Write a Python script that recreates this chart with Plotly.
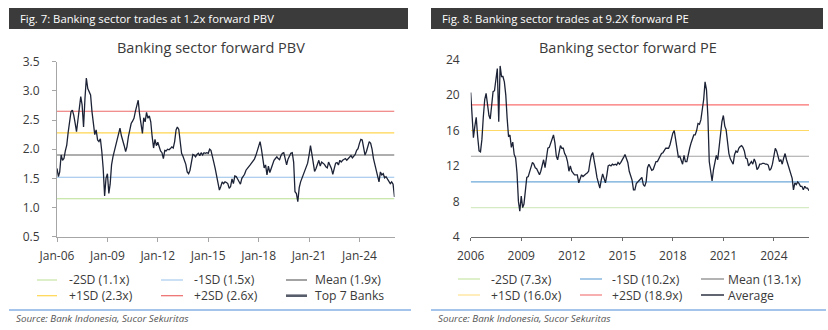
import pandas as pd
import plotly.graph_objects as go

W, H = 828, 330

# Monthly observations, Jan 2006 onward
months = pd.date_range("2006-01-01", periods=242, freq="MS")

# Banking sector forward PBV (Top 7 Banks)
pbv_top7 = [
    1.67, 1.53, 1.61, 1.90, 1.81, 1.84, 1.97, 2.07, 2.29, 2.50,
    2.64, 2.67, 2.58, 2.44, 2.30, 2.50, 2.70, 2.90, 2.76, 2.38,
    2.87, 3.22, 3.04, 2.98, 2.93, 2.64, 2.41, 2.25, 2.33, 2.16,
    2.13, 2.18, 1.96, 1.67, 1.20, 1.50, 1.58, 1.24, 1.40, 1.73,
    1.87, 1.98, 2.06, 2.16, 2.30, 2.36, 2.23, 2.16, 2.06, 1.96,
    2.04, 2.21, 2.34, 2.44, 2.48, 2.53, 2.65, 2.76, 2.84, 2.60,
    2.41, 2.27, 2.54, 2.47, 2.63, 2.53, 2.57, 2.47, 2.21, 2.02,
    2.17, 2.06, 2.12, 2.02, 1.97, 1.94, 1.84, 1.98, 1.97, 2.00,
    1.99, 2.01, 2.04, 2.02, 2.13, 2.33, 2.38, 2.34, 2.18, 1.93,
    1.88, 1.81, 1.74, 1.61, 1.58, 1.64, 1.77, 1.91, 1.90, 1.87,
    1.91, 1.93, 1.89, 1.94, 1.90, 1.94, 1.93, 1.94, 1.93, 2.00,
    1.98, 1.90, 1.78, 1.67, 1.53, 1.41, 1.30, 1.36, 1.44, 1.41,
    1.44, 1.43, 1.41, 1.33, 1.36, 1.49, 1.41, 1.54, 1.53, 1.49,
    1.43, 1.40, 1.50, 1.53, 1.57, 1.64, 1.68, 1.70, 1.73, 1.76,
    1.80, 1.83, 1.89, 1.97, 2.04, 2.13, 2.01, 1.83, 1.68, 1.73,
    1.56, 1.71, 1.60, 1.67, 1.74, 1.81, 1.84, 1.87, 1.84, 1.82,
    1.89, 1.93, 1.94, 1.83, 1.73, 1.83, 1.89, 1.93, 1.94, 1.78,
    1.27, 1.24, 1.10, 1.34, 1.44, 1.51, 1.56, 1.61, 1.68, 1.76,
    1.90, 2.06, 1.93, 1.74, 1.62, 1.67, 1.74, 1.81, 1.71, 1.78,
    1.76, 1.74, 1.70, 1.68, 1.78, 1.73, 1.67, 1.57, 1.67, 1.76,
    1.77, 1.73, 1.81, 1.78, 1.81, 1.82, 1.84, 1.81, 1.84, 1.86,
    1.89, 1.85, 1.89, 1.91, 1.98, 2.01, 2.10, 2.17, 2.16, 2.02,
    1.90, 1.96, 2.06, 2.13, 2.10, 2.00, 1.84, 1.74, 1.66, 1.56,
    1.44, 1.61, 1.56, 1.58, 1.51, 1.53, 1.49, 1.45, 1.41, 1.44,
    1.40, 1.18,
]

# Banking sector forward PE (average)
pe_avg = [
    20.3, 17.2, 15.2, 16.5, 17.5, 15.3, 13.7, 13.6, 15.0, 17.5,
    19.5, 20.2, 19.1, 17.7, 17.3, 19.3, 20.4, 20.5, 22.1, 23.0,
    17.0, 23.3, 22.1, 22.1, 21.5, 20.0, 17.4, 15.3, 15.5, 14.1,
    14.7, 13.3, 12.9, 11.2, 8.0, 6.9, 8.6, 7.3, 7.7, 9.7,
    10.7, 10.8, 11.3, 12.0, 12.4, 12.2, 11.8, 11.7, 11.4, 11.0,
    11.4, 12.2, 12.7, 11.8, 13.2, 14.0, 14.1, 14.6, 15.2, 15.5,
    14.6, 13.1, 12.7, 13.7, 14.3, 14.0, 14.0, 13.4, 13.1, 12.5,
    11.4, 12.0, 11.4, 11.2, 11.0, 11.0, 11.0, 10.1, 10.6, 11.0,
    10.8, 11.0, 11.1, 11.2, 11.4, 12.5, 13.2, 13.5, 12.8, 11.7,
    10.7, 10.2, 9.5, 10.4, 11.1, 10.6, 10.1, 11.0, 12.0, 12.1,
    12.0, 12.2, 12.1, 12.2, 12.1, 12.4, 12.2, 12.4, 12.8, 13.0,
    13.3, 12.9, 12.4, 11.4, 10.8, 10.4, 9.3, 9.3, 10.0, 10.2,
    10.4, 10.5, 10.7, 9.9, 9.7, 10.2, 11.8, 12.2, 11.9, 11.5,
    11.6, 12.2, 12.5, 12.5, 12.8, 13.1, 13.4, 13.5, 13.7, 14.0,
    14.0, 14.0, 14.4, 15.2, 15.7, 16.0, 15.1, 14.0, 13.0, 13.1,
    12.7, 12.2, 13.2, 12.5, 12.5, 13.5, 14.0, 14.6, 15.1, 15.5,
    15.5, 16.0, 16.8, 16.7, 17.2, 18.3, 19.5, 21.5, 20.6, 17.5,
    12.5, 11.4, 10.3, 11.6, 12.6, 13.2, 12.7, 14.2, 16.0, 17.0,
    17.7, 16.5, 16.1, 14.6, 13.4, 12.8, 12.5, 12.2, 13.3, 13.7,
    13.5, 14.0, 14.2, 14.3, 14.1, 13.7, 12.9, 12.8, 12.0, 12.2,
    12.5, 12.2, 12.8, 12.4, 11.6, 11.8, 12.2, 12.2, 12.3, 12.3,
    12.2, 12.2, 12.1, 11.5, 11.7, 12.2, 13.3, 14.0, 13.7, 12.9,
    12.5, 12.7, 12.2, 12.9, 13.4, 12.7, 12.1, 11.6, 11.0, 10.6,
    9.3, 10.1, 9.9, 10.2, 10.0, 9.7, 9.7, 9.3, 9.7, 9.5,
    9.5, 9.2,
]

# Standard-deviation bands
band_names = ["-2SD", "-1SD", "Mean", "+1SD", "+2SD"]
pbv_band_values = [1.15, 1.52, 1.90, 2.28, 2.65]
pe_band_values = [7.3, 10.2, 13.1, 16.0, 18.9]

# Axis ticks
year_ticks = ["2006-01-01", "2009-01-01", "2012-01-01", "2015-01-01",
              "2018-01-01", "2021-01-01", "2024-01-01"]
pbv_x_labels = ["Jan-06", "Jan-09", "Jan-12", "Jan-15", "Jan-18", "Jan-21", "Jan-24"]
pe_x_labels = ["2006", "2009", "2012", "2015", "2018", "2021", "2024"]
pbv_y_ticks = [0.5, 1.0, 1.5, 2.0, 2.5, 3.0, 3.5]
pe_y_ticks = [4, 8, 12, 16, 20, 24]

FONT = "Open Sans"
TXT = "#3a3a3a"
NAVY = "#1d2336"

pbv_colors = {"-2SD": "#b9df93", "-1SD": "#93bfe9", "Mean": "#5f5f5f",
              "+1SD": "#ffd54f", "+2SD": "#ec6868"}
pe_colors = {"-2SD": "#d5ebc4", "-1SD": "#6ea7da", "Mean": "#a3a3a3",
             "+1SD": "#ffd966", "+2SD": "#fb6f6f"}
pbv_legend_colors = dict(pbv_colors, **{"-2SD": "#c6e5a6", "-1SD": "#a9cbee",
                                         "Mean": "#666666"})
pe_legend_colors = dict(pe_colors, **{"-2SD": "#c8e6a6", "Mean": "#808080",
                                       "+1SD": "#ffe28f", "+2SD": "#f47b7b"})

x_start, x_end = "2006-01-01", "2026-02-01"


def px(x):
    return x / W


def py(y):
    return 1 - y / H


fig = go.Figure()

# Left panel: band lines then series
for name, val in zip(band_names, pbv_band_values):
    fig.add_trace(go.Scatter(
        x=[months[0], months[-1]], y=[val, val], mode="lines",
        line=dict(color=pbv_colors[name], width=1.1),
        xaxis="x", yaxis="y", hoverinfo="skip", showlegend=False))
fig.add_trace(go.Scatter(
    x=months, y=pbv_top7, mode="lines", line=dict(color=NAVY, width=1.3),
    xaxis="x", yaxis="y", showlegend=False, name="Top 7 Banks"))

# Right panel
for name, val in zip(band_names, pe_band_values):
    fig.add_trace(go.Scatter(
        x=[months[0], months[-1]], y=[val, val], mode="lines",
        line=dict(color=pe_colors[name], width=1.1),
        xaxis="x2", yaxis="y2", hoverinfo="skip", showlegend=False))
fig.add_trace(go.Scatter(
    x=months, y=pe_avg, mode="lines", line=dict(color=NAVY, width=1.3),
    xaxis="x2", yaxis="y2", showlegend=False, name="Average"))

shapes = []
annotations = []

# Header bars
for x0, x1, label in [(9, 408, "Fig. 7: Banking sector trades at 1.2x forward PBV"),
                      (431, 823, "Fig. 8: Banking sector trades at 9.2X forward PE")]:
    shapes.append(dict(type="rect", xref="paper", yref="paper",
                       x0=px(x0), x1=px(x1), y0=py(29), y1=py(8),
                       fillcolor="#3b3b3b", line=dict(width=0), layer="below"))
    annotations.append(dict(text=label, xref="paper", yref="paper",
                            x=px(x0 + 9), y=py(18.5), xanchor="left", yanchor="middle",
                            showarrow=False, font=dict(family=FONT, size=11.3, color="#ffffff")))

# Chart titles
annotations.append(dict(text="Banking sector forward PBV", xref="paper", yref="paper",
                        x=px(210.5), y=py(47), xanchor="center", yanchor="middle",
                        showarrow=False, font=dict(family=FONT, size=14.5, color=TXT)))
annotations.append(dict(text="Banking sector forward PE", xref="paper", yref="paper",
                        x=px(628), y=py(47), xanchor="center", yanchor="middle",
                        showarrow=False, font=dict(family=FONT, size=14.5, color=TXT)))


def legend(entries, cols, rows_y):
    """Two-row, three-column key: line samples plus one two-line label per column."""
    for c in range(3):
        lx0, lx1, tx = cols[c]
        col_entries = [entries[c], entries[c + 3]]
        for (label, color, width), yy in zip(col_entries, rows_y):
            shapes.append(dict(type="line", xref="paper", yref="paper",
                               x0=px(lx0), x1=px(lx1), y0=py(yy), y1=py(yy),
                               line=dict(color=color, width=width)))
        annotations.append(dict(text="<br>".join(e[0] for e in col_entries),
                                xref="paper", yref="paper", align="left",
                                x=px(tx), y=py(sum(rows_y) / 2),
                                xanchor="left", yanchor="middle", showarrow=False,
                                font=dict(family=FONT, size=12.2, color=TXT)))


pbv_entries = [(f"{n} ({v:.1f}x)", pbv_legend_colors[n], 1.2)
               for n, v in zip(band_names, pbv_band_values)]
pbv_entries.append(("Top 7 Banks", "#585d6c", 2.6))
legend(pbv_entries, [(37, 57, 67), (161, 183, 192), (286, 307, 313)], [280, 295.7])

pe_entries = [(f"{n} ({v:.1f}x)", pe_legend_colors[n], 1.2)
              for n, v in zip(band_names, pe_band_values)]
pe_entries.append(("Average", NAVY, 1.4))
legend(pe_entries, [(458, 480, 489), (580, 602, 610), (701, 724, 726)], [279, 295])

# Separator rules and source notes
for x0, x1, tx in [(9, 411, 14), (431, 826, 436)]:
    shapes.append(dict(type="line", xref="paper", yref="paper",
                       x0=px(x0), x1=px(x1), y0=py(310), y1=py(310),
                       line=dict(color="#4a8ad8", width=1.2)))
    annotations.append(dict(text="<i>Source: Bank Indonesia, Sucor Sekuritas</i>",
                            xref="paper", yref="paper", x=px(tx), y=py(318.5),
                            xanchor="left", yanchor="middle", showarrow=False,
                            font=dict(family=FONT, size=9.8, color="#555555")))

tickfont = dict(family=FONT, size=12, color=TXT)

fig.update_layout(
    width=W, height=H, margin=dict(l=0, r=0, t=0, b=0, pad=0, autoexpand=False),
    paper_bgcolor="#ffffff", plot_bgcolor="#ffffff",
    showlegend=False, shapes=shapes, annotations=annotations,
    xaxis=dict(domain=[px(57), px(394.5)], anchor="y", type="date",
               range=[x_start, x_end], tickvals=year_ticks, ticktext=pbv_x_labels,
               showline=True, linecolor="#a6a6a6", linewidth=1,
               ticks="outside", ticklen=4, tickcolor="#a6a6a6",
               showgrid=False, zeroline=False, tickfont=tickfont,
               ticklabelstandoff=4, automargin=False),
    yaxis=dict(domain=[py(236.7), py(61.7)], anchor="x", range=[0.5, 3.5],
               tickvals=pbv_y_ticks, tickformat=".1f",
               showline=True, linecolor="#a6a6a6", linewidth=1,
               ticks="outside", ticklen=4, tickcolor="#a6a6a6",
               showgrid=False, zeroline=False, tickfont=tickfont,
               ticklabelstandoff=10, automargin=False),
    xaxis2=dict(domain=[px(470.7), px(809)], anchor="y2", type="date",
                range=[x_start, x_end], tickvals=year_ticks, ticktext=pe_x_labels,
                showline=True, linecolor="#6b6b6b", linewidth=1.2,
                ticks="outside", ticklen=3, tickcolor="#6b6b6b",
                showgrid=False, zeroline=False, tickfont=tickfont,
                ticklabelstandoff=5, automargin=False),
    yaxis2=dict(domain=[py(236.8), py(59.7)], anchor="x2", range=[4, 24],
                tickvals=pe_y_ticks, showline=False, ticks="",
                showgrid=False, zeroline=False, tickfont=tickfont,
                ticklabelstandoff=10, automargin=False),
)

fig.write_html("out.html")
